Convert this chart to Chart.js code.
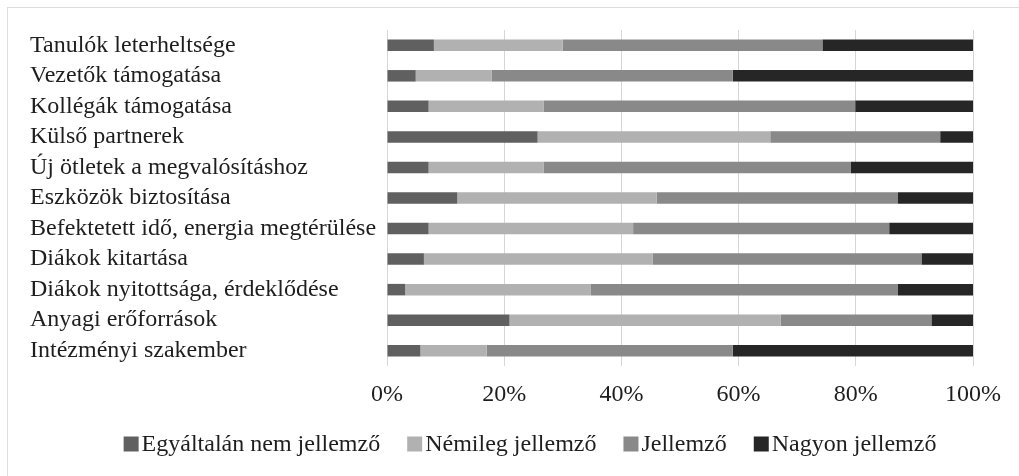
<!DOCTYPE html>
<html lang="hu">
<head>
<meta charset="utf-8">
<title>Tényezők megítélése</title>
<script src="https://cdn.jsdelivr.net/npm/chart.js@4/dist/chart.umd.min.js"></script>
<style>
  html, body { margin: 0; padding: 0; background: #ffffff; }
  #wrap { width: 1019px; height: 476px; position: relative; }
</style>
</head>
<body>
<div id="wrap"><canvas id="chart" width="1019" height="476"></canvas></div>
<script>
// Kategóriák (felülről lefelé)
const categories = [
  'Tanulók leterheltsége',
  'Vezetők támogatása',
  'Kollégák támogatása',
  'Külső partnerek',
  'Új ötletek a megvalósításhoz',
  'Eszközök biztosítása',
  'Befektetett idő, energia megtérülése',
  'Diákok kitartása',
  'Diákok nyitottsága, érdeklődése',
  'Anyagi erőforrások',
  'Intézményi szakember'
];

// Válaszok megoszlása (%)
const egyaltalanNem = [8.0, 4.9, 7.1, 25.7, 7.1, 12.0, 7.1, 6.3, 3.1, 20.9, 5.7];
const nemileg       = [22.0, 13.0, 19.6, 39.7, 19.6, 34.0, 34.9, 39.0, 31.7, 46.3, 11.3];
const jellemzo      = [44.3, 41.1, 53.2, 29.0, 52.4, 41.2, 43.7, 45.9, 52.4, 25.7, 42.0];
const nagyon        = [25.7, 41.0, 20.1, 5.6, 20.9, 12.8, 14.3, 8.8, 12.8, 7.1, 41.0];

const seriesNames = ['Egyáltalán nem jellemző', 'Némileg jellemző', 'Jellemző', 'Nagyon jellemző'];
const xTicks = [0, 20, 40, 60, 80, 100];

const colors = ['#606060', '#b1b1b1', '#898989', '#262626'];
const FONT = "'Liberation Serif', 'Times New Roman', serif";
const TEXT = '#1e1e1e';

// Keret a diagram körül
const framePlugin = {
  id: 'frame',
  beforeDraw(chart) {
    const ctx = chart.ctx;
    ctx.save();
    ctx.fillStyle = '#ffffff';
    ctx.fillRect(0, 0, chart.width, chart.height);
    ctx.strokeStyle = '#dcdcdc';
    ctx.lineWidth = 1;
    ctx.strokeRect(7.5, 7.5, chart.width + 20, chart.height + 20);
    ctx.restore();
  }
};

// Jelmagyarázat: kis négyzet, közvetlenül mellette a felirat
const legendPlugin = {
  id: 'squareLegend',
  afterDraw(chart) {
    const o = chart.options.plugins.squareLegend;
    const ctx = chart.ctx;
    ctx.save();
    ctx.font = o.fontSize + 'px ' + FONT;
    ctx.textBaseline = 'middle';
    const items = chart.data.datasets.map(ds => ({
      text: ds.label, color: ds.backgroundColor, w: ctx.measureText(ds.label).width
    }));
    let total = 0;
    items.forEach((it, i) => {
      total += o.box + o.textGap + it.w + (i < items.length - 1 ? o.itemGap : 0);
    });
    let x = o.centerX - total / 2;
    items.forEach(it => {
      ctx.fillStyle = it.color;
      ctx.fillRect(x, o.y - o.box / 2, o.box, o.box);
      ctx.fillStyle = TEXT;
      ctx.fillText(it.text, x + o.box + o.textGap, o.y + 1);
      x += o.box + o.textGap + it.w + o.itemGap;
    });
    ctx.restore();
  }
};

const dataSeries = [egyaltalanNem, nemileg, jellemzo, nagyon];

new Chart(document.getElementById('chart'), {
  type: 'bar',
  data: {
    labels: categories,
    datasets: dataSeries.map((vals, i) => ({
      label: seriesNames[i],
      data: vals,
      backgroundColor: colors[i],
      borderWidth: 0,
      categoryPercentage: 1.0,
      barPercentage: 0.377
    }))
  },
  options: {
    indexAxis: 'y',
    responsive: false,
    animation: false,
    devicePixelRatio: 1,
    layout: { padding: { left: 30, right: 46, top: 30, bottom: 60 } },
    plugins: {
      legend: { display: false },
      tooltip: { enabled: false },
      squareLegend: { fontSize: 24, box: 15, textGap: 3, itemGap: 27, centerX: 530, y: 444 }
    },
    scales: {
      x: {
        stacked: true,
        min: 0,
        max: 100,
        afterBuildTicks(scale) {
          scale.ticks = xTicks.map(v => ({ value: v }));
        },
        afterFit(scale) { scale.height = 50; },
        ticks: {
          padding: 14,
          color: TEXT,
          font: { family: FONT, size: 24 },
          callback: v => v + '%'
        },
        grid: { color: '#d6d6d6', lineWidth: 1, drawTicks: false },
        border: { display: false }
      },
      y: {
        stacked: true,
        afterFit(scale) { scale.width = 357; },
        ticks: {
          autoSkip: false,
          crossAlign: 'far',
          padding: 12,
          color: TEXT,
          font: { family: FONT, size: 24 }
        },
        grid: { display: false, drawTicks: false },
        border: { display: false }
      }
    }
  },
  plugins: [framePlugin, legendPlugin]
});
</script>
</body>
</html>
